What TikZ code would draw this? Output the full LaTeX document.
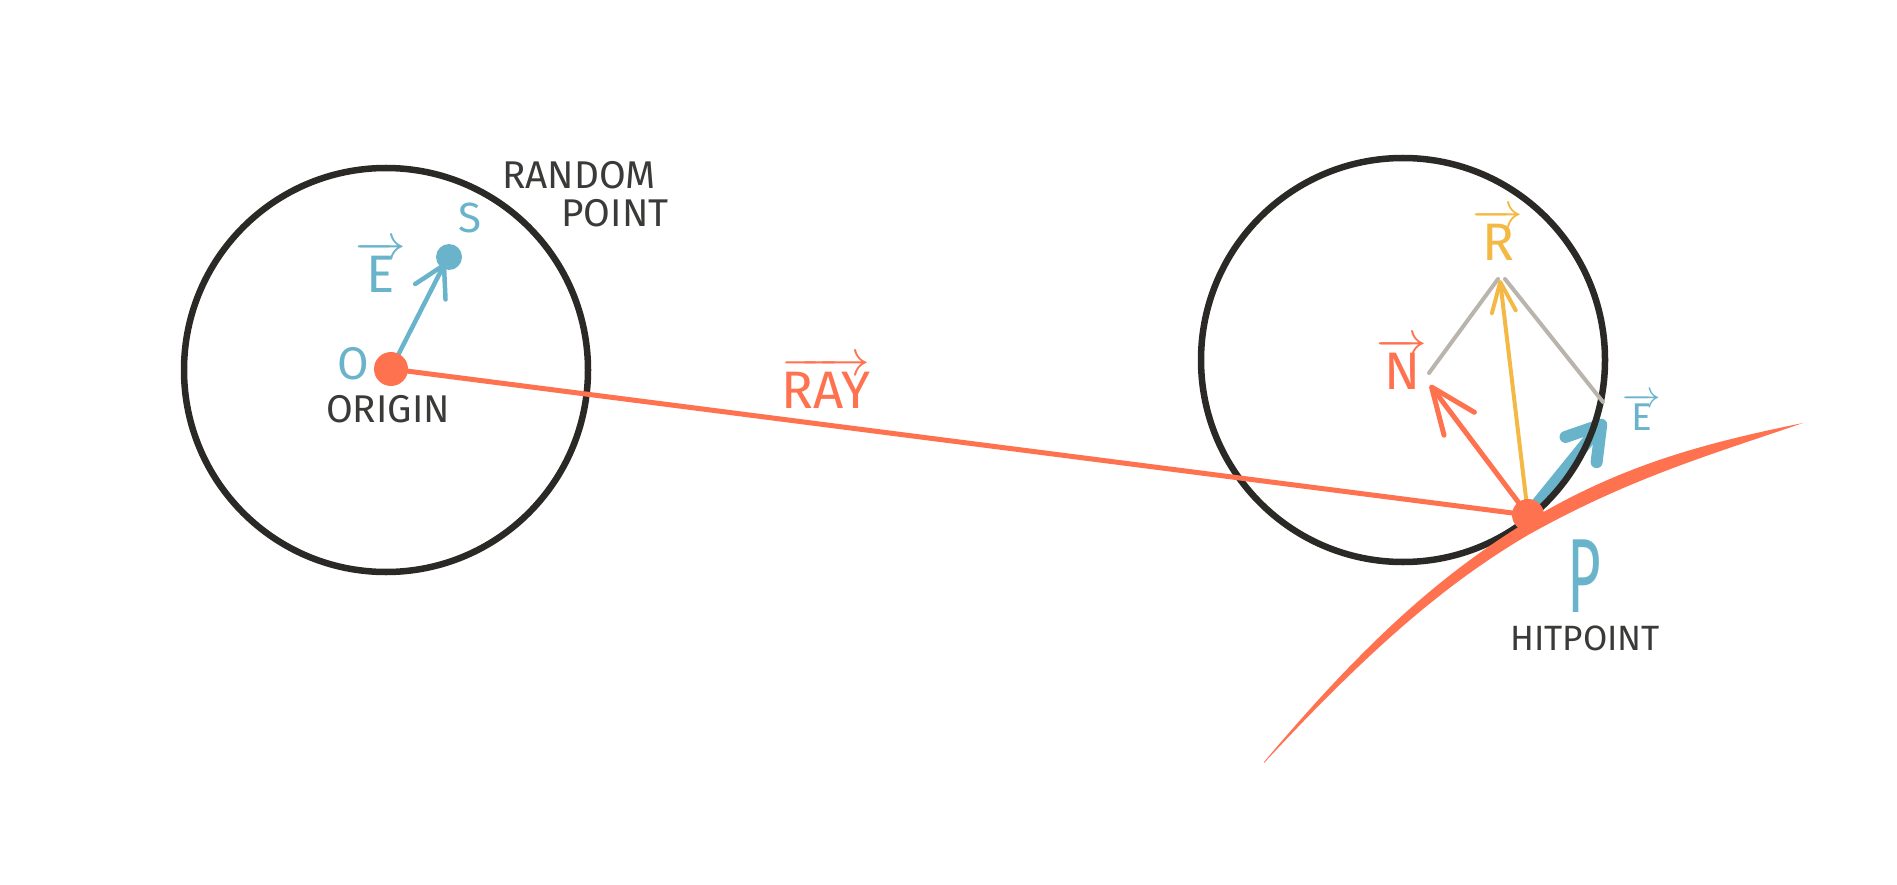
\documentclass[tikz,border=0pt]{standalone}
\usepackage{fontspec}
\usepackage{graphicx}
\setmainfont{Fira Sans}
\usetikzlibrary{arrows.meta}
\definecolor{ink}{HTML}{2A2925}
\definecolor{txt}{HTML}{3A3A38}
\definecolor{rayc}{HTML}{FF7250}
\definecolor{bluec}{HTML}{6AB4CB}
\definecolor{yelc}{HTML}{F4B944}
\definecolor{greyc}{HTML}{B9B5AD}
\newcommand{\vlab}[1]{$\overrightarrow{\mbox{#1}}$}
\begin{document}
\begin{tikzpicture}[line cap=round,line join=round,x=0.01cm,y=-0.01cm,
  circ/.style={draw=ink,line width=0.065cm},
  lbl/.style={text=txt,inner sep=0pt,font=\fontsize{11}{13}\selectfont}]
\useasboundingbox (0,0) rectangle (1897,885);
% points
\coordinate (O) at (391,369);
\coordinate (S) at (449,257);
\coordinate (Stip) at (445,263);
\coordinate (P) at (1528,515);
\coordinate (Ntip) at (1430,385);
\coordinate (Rtip) at (1500,280);
\coordinate (Etip) at (1605,420);
\coordinate (Gl) at (1429,373);
\coordinate (Gtl) at (1498,279);
\coordinate (Gtr) at (1505,279);
\coordinate (Gr) at (1603,402);
% emission vector at the hit point
\draw [bluec,line width=0.12cm,-{Straight Barb[round,length=0.32cm,width=0.4cm]}] (P) -- (Etip);
% the two spheres
\draw [circ] (386,370) circle (202);
\draw [circ] (1403,360) circle (202);
% surface
\fill [rayc] (1264,762) .. controls (1370,636) and (1445,572) .. (1528,521)
  .. controls (1620,466) and (1700,444) .. (1803,423)
  .. controls (1710,455) and (1630,478) .. (1528,535)
  .. controls (1452,580) and (1378,640) .. (1264,763) -- cycle;
% ray
\draw [rayc,line width=0.05cm] (O) -- (P);
% sample direction
\draw [bluec,line width=0.045cm,-{Straight Barb[round,length=0.3cm,width=0.34cm]}] (O) -- (Stip);
% reflection construction
\draw [greyc,line width=0.04cm] (Gl) -- (Gtl);
\draw [greyc,line width=0.04cm] (Gtr) -- (Gr);
\draw [yelc,line width=0.04cm,-{Straight Barb[round,length=0.3cm,width=0.24cm]}] (P) -- (Rtip);
\draw [rayc,line width=0.05cm,-{Straight Barb[round,length=0.46cm,width=0.38cm]}] (P) -- (Ntip);
% dots
\fill [rayc] (O) circle (17);
\fill [bluec] (S) circle (13);
\fill [rayc] (P) circle (16);
% labels
\node [lbl] (rnd) at (579,175) {RANDOM};
\node [lbl] (pnt) at (615,213) {POINT};
\node [lbl] (org) at (388,409) {ORIGIN};
\node [lbl,font=\fontsize{10}{12}\selectfont] (hit) at (1585,638) {HITPOINT};
\node [lbl,text=bluec,font=\fontsize{12}{14}\selectfont] (Slab) at (470,218) {S};
\node [lbl,text=bluec,font=\fontsize{13}{15}\selectfont] (Olab) at (353,364) {O};
\node [lbl,text=bluec,font=\fontsize{15}{17}\selectfont] (E1lab) at (381,267) {\vlab{E}};
\node [lbl,text=rayc,font=\fontsize{15}{17}\selectfont] (raylab) at (826,383) {\vlab{RAY}};
\node [lbl,text=yelc,font=\fontsize{15}{17}\selectfont] (Rlab) at (1498,235) {\vlab{R}};
\node [lbl,text=rayc,font=\fontsize{15}{17}\selectfont] (Nlab) at (1402,364) {\vlab{N}};
\node [lbl,text=bluec,font=\fontsize{11}{13}\selectfont] (E2lab) at (1642,412) {\vlab{E}};
\node [lbl,text=bluec,font=\fontsize{30}{32}\selectfont] (Plab) at (1584,576) {\scalebox{0.55}[1]{P}};
\end{tikzpicture}
\end{document}
